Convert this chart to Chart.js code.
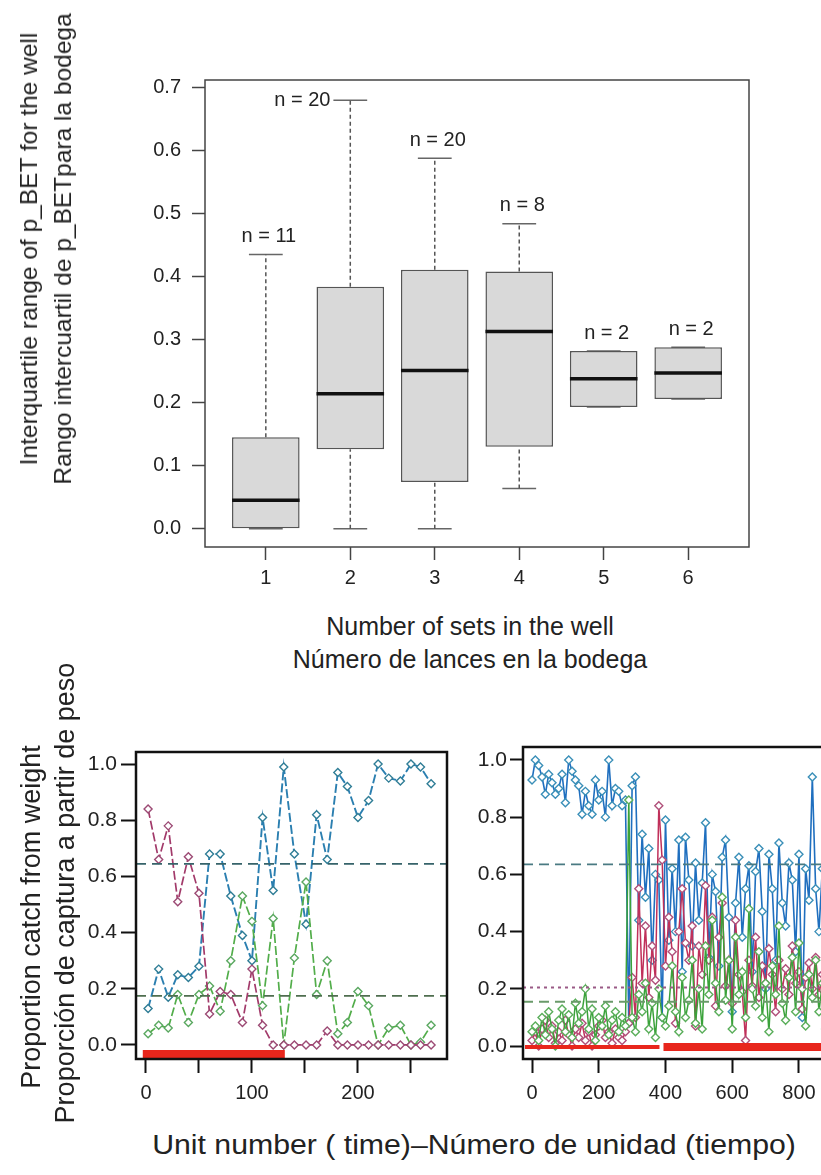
<!DOCTYPE html>
<html>
<head>
<meta charset="utf-8">
<script src="https://cdn.jsdelivr.net/npm/chart.js@4.4.1/dist/chart.umd.min.js"></script>
<style>
  html, body { margin: 0; padding: 0; background: #fff; overflow: hidden; }
  #page { position: relative; width: 821px; height: 1175px; overflow: hidden;
          font-family: "Liberation Sans", Arial, Helvetica, sans-serif; color: #222; }
  canvas { position: absolute; }
  .title { position: absolute; white-space: nowrap; text-align: center; transform: translate(-50%, -50%); }
  .vtitle { transform: translate(-50%, -50%) rotate(-90deg); }
</style>
</head>
<body>
<div id="page">
  <canvas id="topChart" width="821" height="600" style="left:0;top:0"></canvas>
  <canvas id="leftChart" width="480" height="420" style="left:0;top:700px"></canvas>
  <canvas id="rightChart" width="400" height="420" style="left:470px;top:700px"></canvas>

  <div class="title vtitle" style="left:46px;top:249px;font-size:24.5px;line-height:34px">Interquartile range of p_BET for the well<br>Rango intercuartil de p_BETpara la bodega</div>
  <div class="title" style="left:470px;top:643px;font-size:25px;line-height:33px">Number of sets in the well<br>Número de lances en la bodega</div>
  <div class="title vtitle" style="left:31px;top:917px;font-size:27px">Proportion catch from weight</div>
  <div class="title vtitle" style="left:65px;top:893px;font-size:27px">Proporción de captura a partir de peso</div>
  <div class="title" style="left:474px;top:1145px;font-size:27px;transform:translate(-50%,-50%) scaleX(1.12)">Unit number ( time)–Número de unidad (tiempo)</div>
</div>

<script>
// ---- top panel: box plots of the IQR of p_BET by number of sets ----
const sets = [1, 2, 3, 4, 5, 6];
const nObs = [11, 20, 20, 8, 2, 2];
const labelSide = ['above', 'left', 'above', 'above', 'above', 'above'];
const whiskLo = [0.000, 0.000, 0.000, 0.064, 0.193, 0.206];
const q1 = [0.000, 0.126, 0.074, 0.130, 0.193, 0.206];
const med = [0.045, 0.214, 0.251, 0.313, 0.238, 0.247];
const q3 = [0.145, 0.384, 0.411, 0.408, 0.282, 0.288];
const whiskHi = [0.435, 0.680, 0.588, 0.484, 0.282, 0.288];
const topYTicks = [0.0, 0.1, 0.2, 0.3, 0.4, 0.5, 0.6, 0.7];

// ---- bottom left panel ----
const leftX = [2, 12, 21, 30, 40, 50, 60, 70, 80, 91, 100, 110, 120, 130, 140, 151, 161, 171, 181, 190, 200, 210, 219, 229, 240, 250, 259, 269];
const leftBlue = [0.13, 0.27, 0.17, 0.25, 0.24, 0.28, 0.68, 0.68, 0.53, 0.39, 0.30, 0.81, 0.55, 0.99, 0.68, 0.43, 0.82, 0.66, 0.97, 0.92, 0.81, 0.87, 1.00, 0.95, 0.94, 1.00, 0.99, 0.93];
const leftMag = [0.84, 0.66, 0.78, 0.51, 0.67, 0.54, 0.11, 0.19, 0.18, 0.08, 0.27, 0.07, 0.00, 0.00, 0.00, 0.00, 0.00, 0.05, 0.00, 0.00, 0.00, 0.00, 0.00, 0.00, 0.00, 0.00, 0.00, 0.00];
const leftGreen = [0.04, 0.07, 0.06, 0.18, 0.08, 0.18, 0.21, 0.12, 0.30, 0.53, 0.44, 0.14, 0.45, 0.00, 0.31, 0.58, 0.18, 0.30, 0.04, 0.08, 0.19, 0.14, 0.00, 0.06, 0.07, 0.00, 0.01, 0.07];
const leftRefBlue = 0.645;
const leftRefGreen = 0.175;
const leftRedBar = [-3, 131];
const leftRedY = -0.032;
const leftXTicks = [0, 50, 100, 150, 200, 250];
const leftXTickLabels = ['0', '', '100', '', '200', ''];
const propTicks = [0.0, 0.2, 0.4, 0.6, 0.8, 1.0];

// ---- bottom right panel ----
const rightX = [0, 10, 20, 30, 40, 50, 60, 70, 80, 90, 100, 110, 120, 130, 140, 150, 160, 170, 180, 190,
  200, 210, 220, 230, 240, 250, 260, 270, 280, 290, 300, 310, 320, 330, 340, 350, 360, 370, 380, 390,
  400, 410, 420, 430, 440, 450, 460, 470, 480, 490, 500, 510, 520, 530, 540, 550, 560, 570, 580, 590,
  600, 610, 620, 630, 640, 650, 660, 670, 680, 690, 700, 710, 720, 730, 740, 750, 760, 770, 780, 790,
  800, 810, 820, 830, 840, 850, 860, 870, 880, 890, 900];
const rightBlue = [0.93, 1.00, 0.98, 0.94, 0.88, 0.95, 0.92, 0.88, 0.90, 0.95, 0.85, 1.00, 0.96, 0.93, 0.91, 0.81, 0.89, 0.84, 0.81, 0.93,
  0.86, 0.89, 0.80, 1.00, 0.84, 0.90, 0.89, 0.84, 0.86, 0.08, 0.91, 0.94, 0.44, 0.74, 0.52, 0.69, 0.30, 0.60, 0.58, 0.10,
  0.79, 0.37, 0.62, 0.40, 0.72, 0.26, 0.73, 0.58, 0.35, 0.64, 0.44, 0.57, 0.78, 0.31, 0.60, 0.54, 0.28, 0.66, 0.72, 0.45,
  0.12, 0.50, 0.66, 0.38, 0.55, 0.63, 0.26, 0.61, 0.69, 0.47, 0.20, 0.67, 0.55, 0.30, 0.71, 0.50, 0.42, 0.64, 0.58, 0.33,
  0.67, 0.10, 0.62, 0.51, 0.94, 0.55, 0.40, 0.62, 0.30, 0.58, 0.45];
const rightMag = [0.02, 0.05, 0.00, 0.06, 0.09, 0.03, 0.07, 0.01, 0.05, 0.02, 0.09, 0.04, 0.00, 0.06, 0.03, 0.08, 0.02, 0.05, 0.00, 0.04,
  0.07, 0.09, 0.03, 0.05, 0.01, 0.06, 0.03, 0.02, 0.05, 0.08, 0.24, 0.10, 0.55, 0.22, 0.42, 0.17, 0.35, 0.23, 0.84, 0.65,
  0.28, 0.45, 0.33, 0.08, 0.40, 0.55, 0.36, 0.30, 0.42, 0.07, 0.35, 0.25, 0.56, 0.30, 0.45, 0.14, 0.38, 0.50, 0.21, 0.30,
  0.15, 0.44, 0.25, 0.19, 0.02, 0.30, 0.21, 0.38, 0.17, 0.28, 0.22, 0.34, 0.25, 0.12, 0.30, 0.20, 0.27, 0.18, 0.35, 0.22,
  0.26, 0.13, 0.24, 0.29, 0.20, 0.31, 0.18, 0.25, 0.22, 0.27, 0.20];
const rightGreen = [0.05, 0.07, 0.02, 0.10, 0.04, 0.12, 0.06, 0.00, 0.09, 0.13, 0.05, 0.11, 0.03, 0.15, 0.08, 0.12, 0.20, 0.06, 0.13, 0.02,
  0.10, 0.07, 0.14, 0.04, 0.09, 0.12, 0.05, 0.10, 0.07, 0.86, 0.10, 0.05, 0.18, 0.12, 0.22, 0.06, 0.15, 0.03, 0.20, 0.10,
  0.07, 0.14, 0.28, 0.12, 0.05, 0.24, 0.10, 0.16, 0.30, 0.08, 0.20, 0.06, 0.35, 0.18, 0.44, 0.22, 0.12, 0.52, 0.16, 0.30,
  0.06, 0.38, 0.18, 0.26, 0.10, 0.48, 0.20, 0.14, 0.33, 0.10, 0.22, 0.05, 0.28, 0.18, 0.42, 0.15, 0.09, 0.24, 0.31, 0.12,
  0.36, 0.20, 0.07, 0.25, 0.17, 0.30, 0.12, 0.22, 0.06, 0.20, 0.14];
const rightRefBlue = 0.635;
const rightRefMag = 0.205;
const rightRefGreen = 0.155;
const rightRedThin = [-21, 382];
const rightRedThick = [394, 905];
const rightRedY = -0.003;
const rightXTicks = [0, 200, 400, 600, 800];

Chart.defaults.font.family = '"Liberation Sans", Arial, Helvetica, sans-serif';
Chart.defaults.color = '#222';
Chart.defaults.animation = false;
Chart.defaults.plugins.legend.display = false;
Chart.defaults.plugins.tooltip.enabled = false;

// box around the plotting region, like R's box()
const framePlugin = {
  id: 'frame',
  afterDraw(chart, args, opts) {
    const { ctx, chartArea: a } = chart;
    ctx.save();
    ctx.strokeStyle = opts.color;
    ctx.lineWidth = opts.width;
    ctx.strokeRect(a.left, a.top, a.right - a.left, a.bottom - a.top);
    ctx.restore();
  }
};

// "n = .." counts over each box
const nLabelPlugin = {
  id: 'nLabels',
  afterDatasetsDraw(chart) {
    if (!chart.options.plugins.nLabels) return;
    const { ctx, scales: { x, y } } = chart;
    ctx.save();
    ctx.font = '20px "Liberation Sans", Arial, sans-serif';
    ctx.fillStyle = '#222';
    ctx.textBaseline = 'middle';
    sets.forEach((s, i) => {
      const py = y.getPixelForValue(whiskHi[i]);
      const text = `n = ${nObs[i]}`;
      if (labelSide[i] === 'left') {
        ctx.textAlign = 'right';
        ctx.fillText(text, x.getPixelForValue(s - 0.2) - 3, py);
      } else {
        ctx.textAlign = 'center';
        ctx.fillText(text, x.getPixelForValue(s) + 3, py - 18);
      }
    });
    ctx.restore();
  }
};

function axis(min, max, ticks, o) {
  return {
    type: 'linear', min, max, offset: false,
    afterBuildTicks: s => { s.ticks = ticks.map(v => ({ value: v })); },
    afterFit: s => {
      if (o.width != null) s.width = o.width;
      if (o.height != null) s.height = o.height;
    },
    border: { display: false },
    grid: { offset: false, drawOnChartArea: false, drawTicks: true, tickLength: o.tickLength, tickWidth: o.tickWidth, tickColor: o.tickColor },
    ticks: { font: { size: o.fontSize }, color: '#222', padding: o.padding, autoSkip: false, maxRotation: 0, minRotation: 0, callback: o.fmt }
  };
}

// list of [[x1,y1],[x2,y2]] -> line points broken by gaps
function segs(list) {
  const out = [];
  list.forEach(([a, b]) => {
    out.push({ x: a[0], y: a[1] }, { x: b[0], y: b[1] }, { x: b[0], y: null });
  });
  return out;
}

const oneDec = v => v.toFixed(1);

new Chart(document.getElementById('topChart'), {
  type: 'bar',
  data: {
    datasets: [
      {
        type: 'line', order: 3,
        data: segs(sets.flatMap((s, i) => [[[s, q3[i]], [s, whiskHi[i]]], [[s, whiskLo[i]], [s, q1[i]]]])),
        borderColor: '#555', borderWidth: 1.5, borderDash: [4, 3], pointRadius: 0, spanGaps: false
      },
      {
        type: 'line', order: 3,
        data: segs(sets.flatMap((s, i) => [[[s - 0.2, whiskHi[i]], [s + 0.2, whiskHi[i]]], [[s - 0.2, whiskLo[i]], [s + 0.2, whiskLo[i]]]])),
        borderColor: '#666', borderWidth: 1.5, pointRadius: 0, spanGaps: false
      },
      {
        type: 'bar', order: 2,
        data: sets.map((s, i) => ({ x: s, y: [q1[i], q3[i]] })),
        backgroundColor: '#d9d9d9', borderColor: '#555', borderWidth: 1.5, borderSkipped: false,
        barPercentage: 0.8, categoryPercentage: 1.0
      },
      {
        type: 'line', order: 1,
        data: segs(sets.map((s, i) => [[s - 0.4, med[i]], [s + 0.4, med[i]]])),
        borderColor: '#111', borderWidth: 3.5, pointRadius: 0, spanGaps: false
      }
    ]
  },
  options: {
    responsive: false,
    devicePixelRatio: 1,
    layout: { padding: { top: 80, right: 72, left: 0, bottom: 0 } },
    plugins: { frame: { color: '#444', width: 1.5 }, nLabels: true },
    scales: {
      x: axis(0.28, 6.72, sets, { height: 53, tickLength: 13, tickWidth: 1.5, tickColor: '#444', fontSize: 20, padding: 6, fmt: v => String(v) }),
      y: axis(-0.029, 0.712, topYTicks, { width: 205, tickLength: 13, tickWidth: 1.5, tickColor: '#444', fontSize: 20, padding: 11, fmt: oneDec })
    }
  },
  plugins: [framePlugin, nLabelPlugin]
});

function series(xs, ys, line, pt, dash, width) {
  return {
    type: 'line', order: 2,
    data: xs.map((x, i) => ({ x, y: ys[i] })),
    borderColor: line, borderWidth: width, borderDash: dash, tension: 0,
    pointStyle: 'rectRot', pointRadius: 4, pointBorderColor: pt, pointBackgroundColor: '#fff', pointBorderWidth: 1.4
  };
}

function hline(x0, x1, y, color, dash, width) {
  return {
    type: 'line', order: 1,
    data: [{ x: x0, y }, { x: x1, y }],
    borderColor: color, borderDash: dash, borderWidth: width, pointRadius: 0
  };
}

const leftXMin = -9.4, leftXMax = 284;
new Chart(document.getElementById('leftChart'), {
  type: 'line',
  data: {
    datasets: [
      series(leftX, leftMag, '#a23a6a', '#9c4a74', [9, 3], 1.7),
      series(leftX, leftGreen, '#52ad4a', '#5aa860', [9, 3], 1.7),
      series(leftX, leftBlue, '#2b7fb0', '#2f7d96', [9, 3], 1.9),
      hline(leftXMin, leftXMax, leftRefBlue, '#36636a', [10, 6], 1.8),
      hline(leftXMin, leftXMax, leftRefGreen, '#4f6e4f', [10, 6], 1.8),
      hline(leftRedBar[0], leftRedBar[1], leftRedY, '#e8261c', [], 8)
    ]
  },
  options: {
    responsive: false,
    devicePixelRatio: 1,
    layout: { padding: { top: 52, right: 33, left: 0, bottom: 0 } },
    plugins: { frame: { color: '#111', width: 2.5 } },
    scales: {
      x: axis(leftXMin, leftXMax, leftXTicks, { height: 61, tickLength: 14, tickWidth: 2, tickColor: '#111', fontSize: 20, padding: 8, fmt: (v, i) => leftXTickLabels[i] }),
      y: axis(-0.05, 1.043, propTicks, { width: 136, tickLength: 15, tickWidth: 2, tickColor: '#111', fontSize: 21, padding: 4, fmt: oneDec })
    }
  },
  plugins: [framePlugin]
});

const rightXMin = -27, rightXMax = 905;
new Chart(document.getElementById('rightChart'), {
  type: 'line',
  data: {
    datasets: [
      series(rightX, rightGreen, '#3aa23a', '#5aae5a', [], 1.5),
      series(rightX, rightMag, '#c0305a', '#b0507a', [], 1.5),
      series(rightX, rightBlue, '#1f6fbf', '#3a8fb8', [], 1.6),
      hline(rightXMin, rightXMax, rightRefBlue, '#4a7a82', [10, 6], 1.8),
      hline(rightXMin, rightXMax, rightRefMag, '#9a5a86', [3, 4], 2),
      hline(rightXMin, rightXMax, rightRefGreen, '#6a9a6a', [10, 6], 1.8),
      hline(rightRedThin[0], rightRedThin[1], rightRedY, '#e8261c', [], 4),
      hline(rightRedThick[0], rightRedThick[1], rightRedY, '#e8261c', [], 8)
    ]
  },
  options: {
    responsive: false,
    devicePixelRatio: 1,
    layout: { padding: { top: 47, right: 36, left: 0, bottom: 0 } },
    plugins: { frame: { color: '#111', width: 2.5 } },
    scales: {
      x: axis(rightXMin, rightXMax, rightXTicks, { height: 61, tickLength: 14, tickWidth: 2, tickColor: '#111', fontSize: 20, padding: 8, fmt: v => String(v) }),
      y: axis(-0.045, 1.045, propTicks, { width: 53, tickLength: 13, tickWidth: 2, tickColor: '#111', fontSize: 21, padding: 3, fmt: oneDec })
    }
  },
  plugins: [framePlugin]
});
</script>
</body>
</html>
